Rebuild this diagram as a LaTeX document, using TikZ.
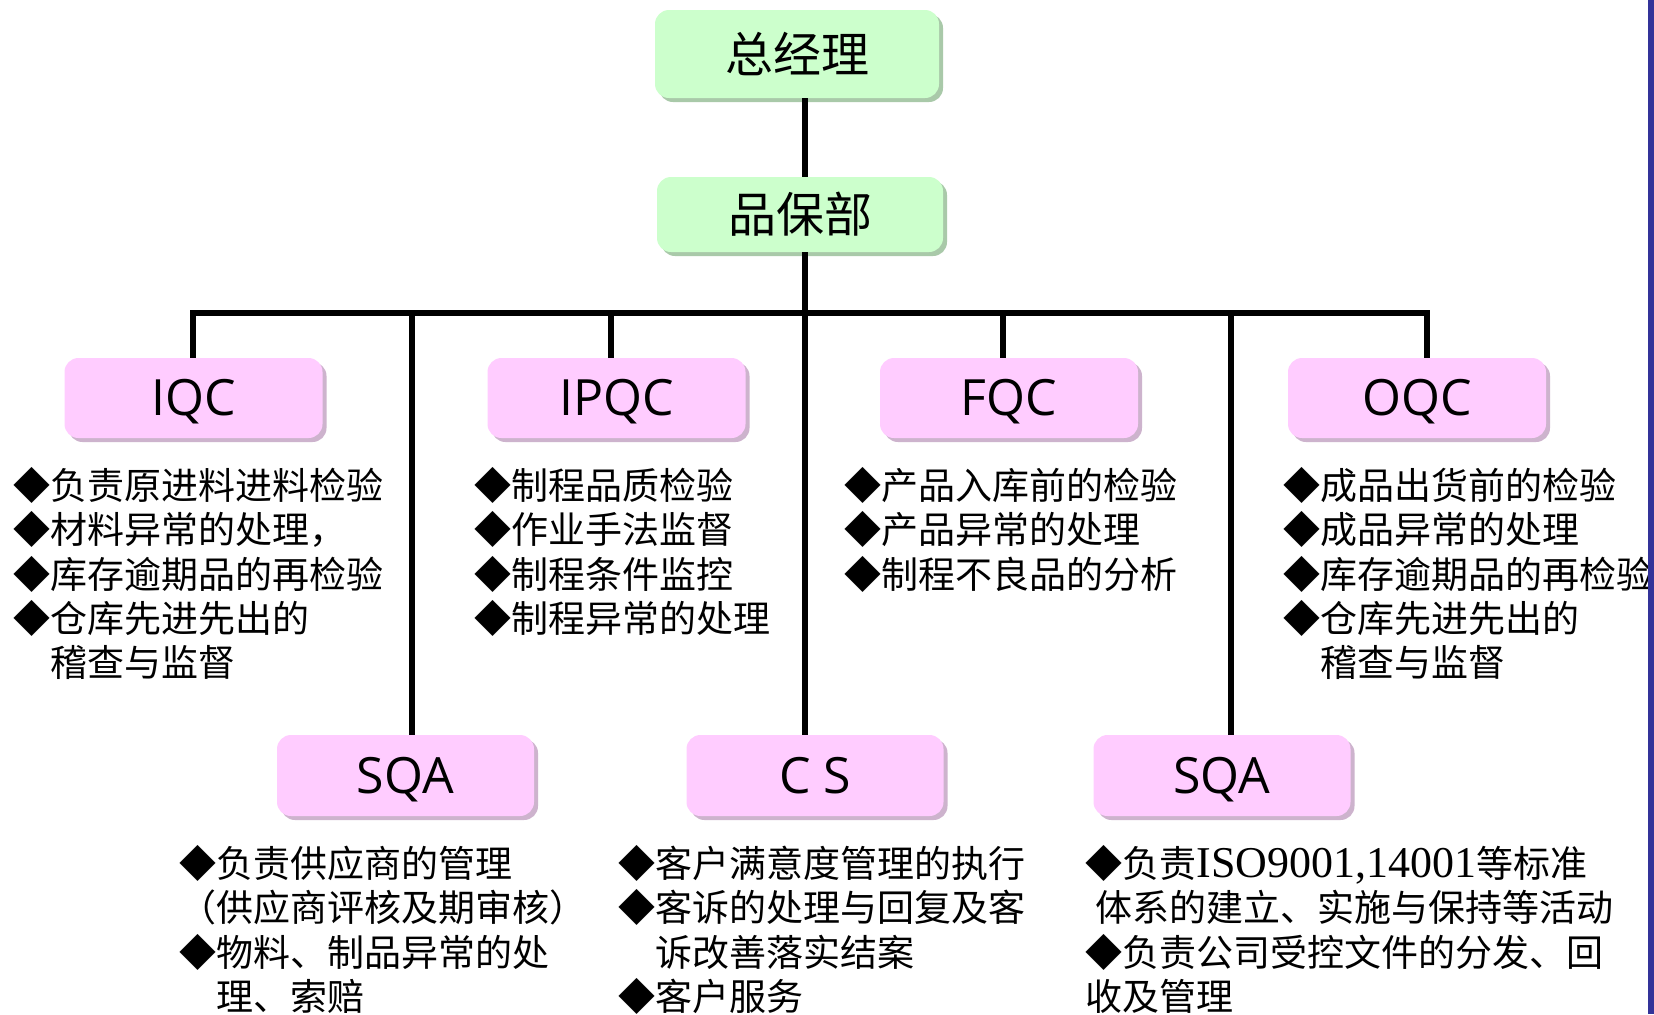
\documentclass[tikz,border=0pt]{standalone}
\usepackage{fontspec}
\setmainfont{Liberation Serif}
\newfontfamily\cjk{Noto Sans CJK SC}
\newfontfamily\latbox{Open Sans}
\usetikzlibrary{shadows}
\definecolor{gfill}{HTML}{CCFFCC}
\definecolor{gshadow}{HTML}{A9C9A9}
\definecolor{pfill}{HTML}{FFCCFF}
\definecolor{pshadow}{HTML}{CDB3CD}
\definecolor{barblue}{HTML}{333399}
\tikzset{
  basebox/.style={rounded corners=7pt, inner sep=0pt, text=black},
  gbox/.style={basebox, fill=gfill, font=\cjk\fontsize{24}{28}\selectfont,
    drop shadow={shadow xshift=2pt, shadow yshift=-2pt, fill=gshadow, opacity=1}},
  pbox/.style={basebox, fill=pfill, font=\latbox\fontsize{25}{30}\selectfont,
    text height=17.9pt, text depth=0pt,
    minimum width=129pt, minimum height=40pt,
    drop shadow={shadow xshift=2pt, shadow yshift=-2pt, fill=pshadow, opacity=1}},
  bul/.style={font=\cjk\fontsize{18.5}{22.15}\selectfont, align=left,
    inner sep=0pt, anchor=north west},
  conn/.style={line width=2.6pt, black},
}
\begin{document}
\begin{tikzpicture}[x=0.5pt,y=-0.5pt]
\useasboundingbox (0,0) rectangle (1654,1014);
\fill[white] (0,0) rectangle (1654,1014);

% coordinates of the connector grid
\coordinate (trunk) at (805,313);
\coordinate (hL) at (193,313);
\coordinate (hR) at (1427,313);
\coordinate (b2) at (611,313);
\coordinate (b3) at (1003,313);
\coordinate (s1) at (412,313);
\coordinate (s2) at (1231,313);

% boxes
\node[gbox, minimum width=142pt, minimum height=44pt] (gm) at (797,54) {总经理};
\node[gbox, minimum width=143pt, minimum height=37.5pt] (qa) at (800,214.5) {品保部};

\node[pbox] (iqc)  at (193.5,398) {IQC};
\node[pbox] (ipqc) at (616.5,398) {IPQC};
\node[pbox] (fqc)  at (1009,398) {FQC};
\node[pbox] (oqc)  at (1417,398) {OQC};

\node[pbox, minimum width=128.5pt, minimum height=40.5pt] (sqa)  at (405.5,775.5) {SQA};
\node[pbox, minimum width=128.5pt, minimum height=40.5pt] (cs)   at (815,775.5) {C S};
\node[pbox, minimum width=128.5pt, minimum height=40.5pt] (sqb)  at (1222,775.5) {SQA};

% connectors
\draw[conn] (gm.south -| trunk) -- (qa.north -| trunk);
\draw[conn] (qa.south -| trunk) -- (trunk);
\draw[conn] (iqc.north -| hL) -- (hL) -- (hR) -- (oqc.north -| hR);
\draw[conn] (b2) -- (ipqc.north -| b2);
\draw[conn] (b3) -- (fqc.north -| b3);
\draw[conn] (s1) -- (sqa.north -| s1);
\draw[conn] (trunk) -- (cs.north -| trunk);
\draw[conn] (s2) -- (sqb.north -| s2);

% bullet texts
\node[bul] (iqct) at (13,465) {\rule{0pt}{17pt}◆负责原进料进料检验\\◆材料异常的处理，\\◆库存逾期品的再检验\\◆仓库先进先出的\\\hspace*{1em}稽查与监督};
\node[bul] (ipqct) at (474,465) {\rule{0pt}{17pt}◆制程品质检验\\◆作业手法监督\\◆制程条件监控\\◆制程异常的处理};
\node[bul] (fqct) at (844,465) {\rule{0pt}{17pt}◆产品入库前的检验\\◆产品异常的处理\\◆制程不良品的分析};
\node[bul] (oqct) at (1283,465) {\rule{0pt}{17pt}◆成品出货前的检验\\◆成品异常的处理\\◆库存逾期品的再检验\\◆仓库先进先出的\\\hspace*{1em}稽查与监督};

\node[bul] (sqat) at (179,843) {\rule{0pt}{17pt}◆负责供应商的管理\\（供应商评核及期审核）\\◆物料、制品异常的处\\\hspace*{1em}理、索赔};
\node[bul] (cst) at (618,843) {\rule{0pt}{17pt}◆客户满意度管理的执行\\◆客诉的处理与回复及客\\\hspace*{1em}诉改善落实结案\\◆客户服务};
\node[bul] (sqbt) at (1085,843) {\rule{0pt}{17pt}◆负责{\rmfamily\fontsize{22}{22.15}\selectfont ISO9001,14001}等标准\\\hspace*{0.27em}体系的建立、实施与保持等活动\\◆负责公司受控文件的分发、回\\收及管理};

% right edge bar
\fill[barblue] (1648,0) rectangle (1654,1014);
\end{tikzpicture}
\end{document}
